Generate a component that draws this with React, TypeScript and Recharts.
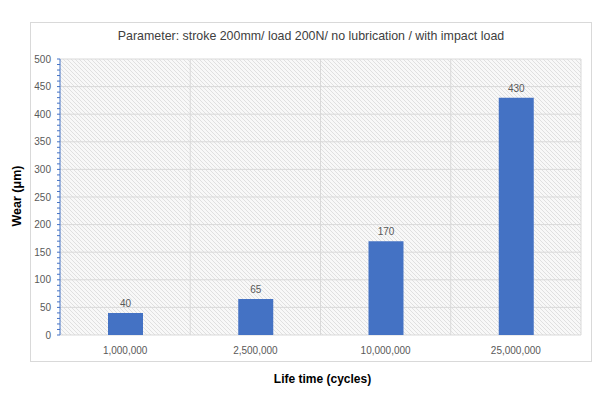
import { BarChart, Bar, XAxis, YAxis, CartesianGrid, LabelList } from 'recharts'

const cycles = ['1,000,000', '2,500,000', '10,000,000', '25,000,000']
const wear = [40, 65, 170, 430]
const majorTicks = [0, 50, 100, 150, 200, 250, 300, 350, 400, 450, 500]
// minor tick marks every 10 along the value axis
const minorTicks = majorTicks.flatMap((t, i) =>
  i === 0 ? [t] : [t - 40, t - 30, t - 20, t - 10, t]
)

const data = cycles.map((c, i) => ({ cycles: c, wear: wear[i] }))

const BAR_COLOR = '#4472c4'
const TEXT = '#595959'
const FONT = '"Liberation Sans", Arial, sans-serif'

function YTick(props: any) {
  const { x, y, payload } = props
  if (payload.value % 50 !== 0) return null
  return (
    <text x={x - 4} y={y} dy={3.5} textAnchor="end" fill={TEXT} fontSize={10} fontFamily={FONT}>
      {payload.value}
    </text>
  )
}

export default function App() {
  return (
    <div style={{ position: 'absolute', left: 0, top: 0, width: 600, height: 399, background: '#fff', fontFamily: FONT }}>
      <div style={{ position: 'absolute', left: 30, top: 22, width: 560, height: 338, border: '1px solid #d9d9d9' }} />
      <div style={{ position: 'absolute', left: 30, width: 562, top: 29, textAlign: 'center', fontSize: 12.4, color: '#404040' }}>
        Parameter: stroke 200mm/ load 200N/ no lubrication / with impact load
      </div>
      <div style={{ position: 'absolute', left: 0, width: 645, top: 372, textAlign: 'center', fontSize: 12, fontWeight: 'bold', color: '#000' }}>
        Life time (cycles)
      </div>
      <div style={{ position: 'absolute', left: 17, top: 196, transform: 'translate(-50%, -50%) rotate(-90deg)', whiteSpace: 'nowrap', fontSize: 12.5, fontWeight: 'bold', color: '#000' }}>
        Wear (μm)
      </div>
      <div style={{ position: 'absolute', left: 0, top: 0 }}>
        <BarChart width={600} height={399} data={data} margin={{ top: 59, right: 19, bottom: 50, left: 0 }}>
          <defs>
            <pattern id="hatch" patternUnits="userSpaceOnUse" width={4} height={4}>
              <rect width={4} height={4} fill="#f8f8f8" />
              <path d="M-1,-1 L5,5 M3,-1 L5,1 M-1,3 L1,5" stroke="#d6d6d6" strokeWidth={0.7} />
            </pattern>
          </defs>
          <CartesianGrid
            fill="url(#hatch)"
            stroke="#d9d9d9"
            horizontalCoordinatesGenerator={({ offset }: any) =>
              majorTicks.map(t => offset.top + offset.height - (t / 500) * offset.height)
            }
            verticalCoordinatesGenerator={({ offset }: any) =>
              [1, 2, 3, 4].map(i => offset.left + (i * offset.width) / 4)
            }
          />
          <XAxis
            dataKey="cycles"
            axisLine={false}
            tickLine={false}
            tick={{ fill: TEXT, fontSize: 10, fontFamily: FONT }}
            tickMargin={6}
            height={14}
          />
          <YAxis
            domain={[0, 500]}
            ticks={minorTicks}
            interval={0}
            width={60}
            axisLine={{ stroke: BAR_COLOR }}
            tickLine={{ stroke: BAR_COLOR }}
            tickSize={3}
            tick={<YTick />}
          />
          <Bar dataKey="wear" fill={BAR_COLOR} barSize={35} isAnimationActive={false}>
            <LabelList dataKey="wear" position="top" offset={6} fill={TEXT} fontSize={10} fontFamily={FONT} />
          </Bar>
        </BarChart>
      </div>
    </div>
  )
}
